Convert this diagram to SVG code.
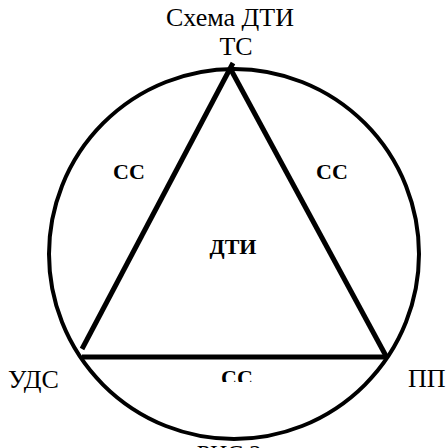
<svg xmlns="http://www.w3.org/2000/svg" width="447" height="448" viewBox="0 0 447 448">
<style>
.lbl{font-family:"Liberation Serif","Times New Roman",serif;font-size:26px;fill:#000}
.b{font-family:"Liberation Serif","Times New Roman",serif;font-size:22px;font-weight:bold;fill:#000}
.ln{stroke:#000;stroke-width:5;fill:none}
</style>
<defs>
<clipPath id="cut"><rect x="0" y="0" width="447" height="382"/></clipPath>
</defs>
<rect width="447" height="448" fill="#fff"/>
<g id="ring"><circle cx="234" cy="254" r="185" fill="none" stroke="#000" stroke-width="4"/></g>
<g id="connectors">
<line class="ln" x1="82" y1="349" x2="233" y2="63"/>
<line class="ln" x1="230" y1="68" x2="386" y2="356"/>
<line class="ln" x1="82" y1="357" x2="387" y2="357"/>
</g>
<g id="title"><text class="lbl" x="230" y="26" text-anchor="middle">Схема ДТИ</text></g>
<g id="ts"><text class="lbl" x="236" y="55" text-anchor="middle">ТС</text></g>
<g id="uds"><text class="lbl" x="8" y="388">УДС</text></g>
<g id="pp"><text class="lbl" x="408" y="387">ПП</text></g>
<g id="ss-left"><text class="b" x="129" y="179" text-anchor="middle">СС</text></g>
<g id="ss-right"><text class="b" x="332" y="179" text-anchor="middle">СС</text></g>
<g id="dti"><text class="b" x="233" y="254" text-anchor="middle">ДТИ</text></g>
<g id="ss-bottom" clip-path="url(#cut)"><text class="b" x="237" y="385" text-anchor="middle">СС</text></g>
<g id="caption"><text class="lbl" style="font-size:24px" x="229" y="461" text-anchor="middle">РИС.2</text></g>
</svg>
